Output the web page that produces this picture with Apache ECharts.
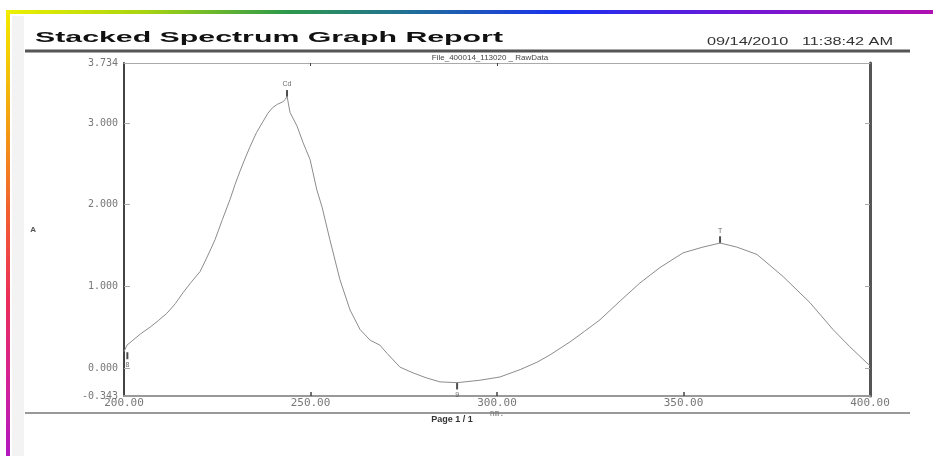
<!DOCTYPE html>
<html><head><meta charset="utf-8">
<script src="https://cdn.jsdelivr.net/npm/echarts@6/dist/echarts.min.js"></script>
<style>html,body{margin:0;padding:0;background:#fff}#c{width:933px;height:456px}</style>
</head><body><div id="c"></div>
<script>
// wavelength (nm)
const wavelengths = [200.0, 200.8, 202.4, 204.5, 207.0, 209.2, 211.5, 213.8, 215.8, 218.0, 220.4, 222.4, 224.4, 226.4, 228.4, 229.8, 231.1, 232.5, 233.8, 235.5, 237.3, 238.6, 239.9, 241.2, 242.6, 243.3, 243.7, 244.5, 245.4, 246.4, 248.0, 249.9, 251.7, 253.1, 255.2, 257.9, 260.6, 263.3, 266.0, 268.6, 270.5, 274.0, 277.5, 281.0, 284.7, 289.3, 295.4, 300.8, 306.2, 310.7, 314.2, 319.6, 323.5, 327.6, 333.0, 338.3, 343.7, 349.9, 355.2, 359.8, 364.3, 369.7, 376.7, 383.9, 390.1, 394.6, 399.2, 400.0];
// absorbance (A)
const absorbance = [0.20, 0.28, 0.34, 0.42, 0.50, 0.58, 0.67, 0.79, 0.92, 1.05, 1.18, 1.37, 1.57, 1.82, 2.06, 2.25, 2.41, 2.57, 2.71, 2.88, 3.02, 3.12, 3.19, 3.23, 3.26, 3.29, 3.33, 3.13, 3.05, 2.96, 2.76, 2.55, 2.18, 1.97, 1.57, 1.08, 0.71, 0.47, 0.34, 0.28, 0.18, 0.01, -0.06, -0.12, -0.17, -0.18, -0.15, -0.11, -0.02, 0.07, 0.16, 0.32, 0.45, 0.59, 0.82, 1.04, 1.23, 1.41, 1.48, 1.53, 1.48, 1.39, 1.12, 0.80, 0.47, 0.26, 0.06, 0.03];
// axis ticks
const xTickValues = [200, 250, 300, 350, 400];
const yLabelValues = [-0.343, 0, 1, 2, 3, 3.734];
const yTickValues = [0, 1, 2, 3];
// peak markers
const markerX = [200.9, 243.7, 289.3, 359.8];
const markerY = [0.15, 3.36, -0.22, 1.57];
const markerText = ['8', 'Cd', '9', 'T'];
const markerPos = ['bottom', 'top', 'bottom', 'top'];

const chart = echarts.init(document.getElementById('c'), null, {renderer: 'canvas'});

function fitScale(text, font, target) {
  const ctx = document.createElement('canvas').getContext('2d');
  ctx.font = font;
  return target / ctx.measureText(text).width;
}
const titleText = 'Stacked Spectrum Graph Report';
const titleFont = 'bold 15px "Liberation Sans", Arial, sans-serif';
const dateText = '09/14/2010   11:38:42 AM';
const dateFont = '10px "Liberation Sans", Arial, sans-serif';

const lineData = wavelengths.map((w, i) => [w, absorbance[i]]);
const markerData = markerX.map((x, i) => ({
  value: [x, markerY[i]],
  label: {show: true, formatter: markerText[i], position: markerPos[i], distance: 2}
}));

chart.setOption({
  backgroundColor: '#fff',
  animation: false,
  grid: {left: 124, right: 63, top: 63, bottom: 60},
  xAxis: [{
    type: 'value', min: 200, max: 400, interval: 50, position: 'bottom',
    axisLine: {show: true, onZero: false, lineStyle: {color: '#999', width: 2}},
    axisTick: {show: true, inside: true, length: 4, lineStyle: {color: '#444', width: 1.5}, customValues: [250, 300, 350]},
    axisLabel: {formatter: v => v.toFixed(2), fontFamily: '"DejaVu Sans Mono", monospace', fontSize: 11, color: '#777', margin: 2, customValues: xTickValues},
    splitLine: {show: false},
    name: 'nm.', nameLocation: 'middle', nameGap: 14, nameMoveOverlap: false,
    nameTextStyle: {fontFamily: '"DejaVu Sans Mono", monospace', fontSize: 8, color: '#777'}
  }, {
    type: 'value', min: 200, max: 400, interval: 50, position: 'top',
    axisLine: {show: true, onZero: false, lineStyle: {color: '#aaa', width: 1}},
    axisTick: {show: true, inside: true, length: 3, lineStyle: {color: '#444'}, customValues: [250, 300]},
    axisLabel: {show: false}, splitLine: {show: false}
  }],
  yAxis: [{
    type: 'value', min: -0.343, max: 3.734, position: 'left',
    axisLine: {show: true, onZero: false, lineStyle: {color: '#444', width: 2}},
    axisTick: {show: true, inside: true, length: 6, lineStyle: {color: '#aaa'}, customValues: yTickValues},
    axisLabel: {formatter: v => v.toFixed(3), fontFamily: '"DejaVu Sans Mono", monospace', fontSize: 10, color: '#777', margin: 6, customValues: yLabelValues},
    splitLine: {show: false},
    name: 'A', nameLocation: 'middle', nameGap: 88, nameRotate: 0, nameMoveOverlap: false,
    nameTextStyle: {fontSize: 8, color: '#555', fontWeight: 'bold'}
  }, {
    type: 'value', min: -0.343, max: 3.734, position: 'right',
    axisLine: {show: true, onZero: false, lineStyle: {color: '#555', width: 3}},
    axisTick: {show: true, inside: true, length: 5, lineStyle: {color: '#aaa'}, customValues: yTickValues},
    axisLabel: {show: false}, splitLine: {show: false}
  }],
  series: [{
    type: 'line', data: lineData, xAxisIndex: 0, yAxisIndex: 0,
    showSymbol: false, symbol: 'none',
    lineStyle: {color: '#8c8c8c', width: 1}
  }, {
    type: 'scatter', data: markerData, xAxisIndex: 0, yAxisIndex: 0,
    symbol: 'rect', symbolSize: [2, 7], itemStyle: {color: '#222'},
    label: {fontSize: 7, color: '#444', fontFamily: 'Liberation Sans'}
  }],
  graphic: [
    {type: 'rect', shape: {x: 6, y: 10, width: 927, height: 4}, style: {fill: new echarts.graphic.LinearGradient(0, 0, 1, 0, [
      {offset: 0, color: '#eef000'}, {offset: 0.15, color: '#a8d410'}, {offset: 0.3, color: '#2e9a4a'},
      {offset: 0.45, color: '#1f6aa0'}, {offset: 0.6, color: '#1a30f0'}, {offset: 0.78, color: '#6a18d8'},
      {offset: 1, color: '#b010b0'}])}, silent: true},
    {type: 'rect', shape: {x: 6, y: 10, width: 4, height: 446}, style: {fill: new echarts.graphic.LinearGradient(0, 0, 0, 1, [
      {offset: 0, color: '#f2ec00'}, {offset: 0.25, color: '#f4a010'}, {offset: 0.45, color: '#f26030'},
      {offset: 0.65, color: '#ec2c58'}, {offset: 0.85, color: '#d0209a'}, {offset: 1, color: '#b018c0'}])}, silent: true},
    {type: 'rect', shape: {x: 12, y: 16, width: 12, height: 440}, style: {fill: '#f3f3f3'}, silent: true},
    {type: 'line', shape: {x1: 25, y1: 51, x2: 910, y2: 51}, style: {stroke: '#555', lineWidth: 3}, silent: true},
    {type: 'line', shape: {x1: 25, y1: 413, x2: 910, y2: 413}, style: {stroke: '#999', lineWidth: 2}, silent: true},
    {type: 'text', x: 35, y: 38, scaleX: fitScale(titleText, titleFont, 468), originX: 0,
      style: {text: titleText, font: titleFont, fill: '#111', verticalAlign: 'middle'}, silent: true},
    {type: 'text', x: 707, y: 42, scaleX: fitScale(dateText, dateFont, 186),
      style: {text: dateText, font: dateFont, fill: '#333', verticalAlign: 'middle'}, silent: true},
    {type: 'text', x: 490, y: 58,
      style: {text: 'File_400014_113020 _ RawData', font: '8px "Liberation Sans", Arial, sans-serif', fill: '#444', align: 'center', verticalAlign: 'middle'}, silent: true},
    {type: 'text', x: 452, y: 420,
      style: {text: 'Page 1 / 1', font: 'bold 9px "Liberation Sans", Arial, sans-serif', fill: '#333', align: 'center', verticalAlign: 'middle'}, silent: true}
  ]
});
</script>
</body></html>
